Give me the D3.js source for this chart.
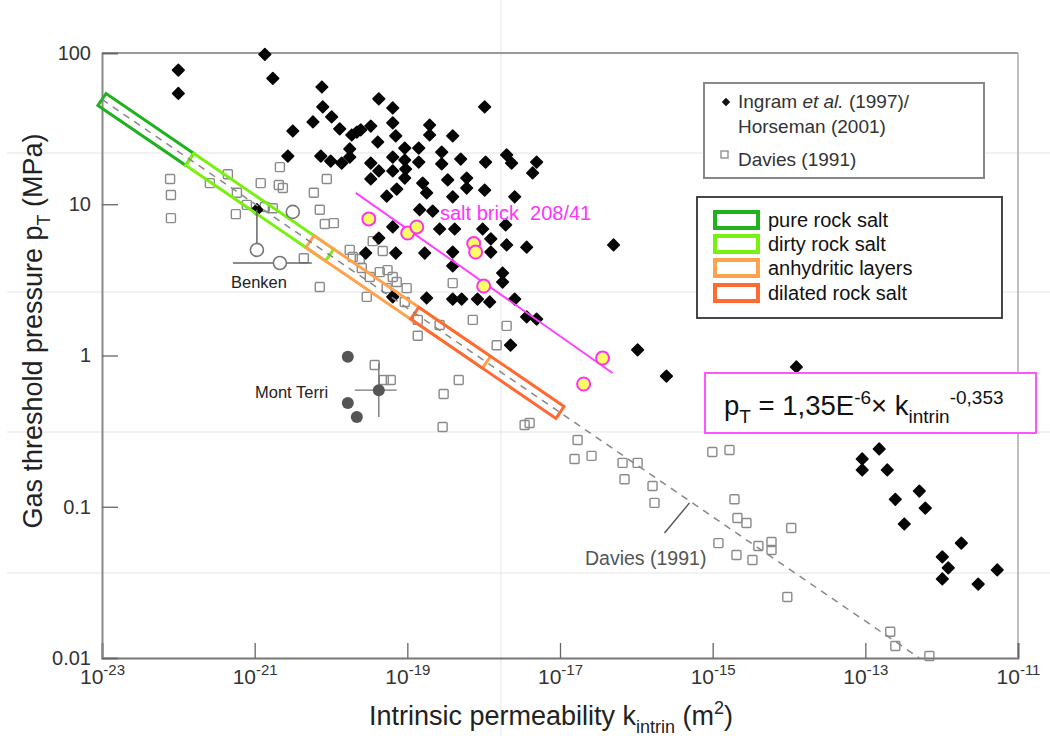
<!DOCTYPE html>
<html>
<head>
<meta charset="utf-8">
<script src="https://cdn.jsdelivr.net/npm/d3@7"></script>
<style>
  body { margin: 0; background: #fff; }
  svg { display: block; font-family: "Liberation Sans", Arial, sans-serif; }
</style>
</head>
<body>
<svg id="chart" width="1050" height="736"></svg>
<script>
// ---- Data: intrinsic permeability k (m²) and gas threshold pressure p (MPa) ----

// Ingram et al. (1997) / Horseman (2001)
const ingramK = [
  1.0e-22, 1.0e-22, 1.36e-21, 1.73e-21, 7.6e-21, 7.8e-21, 1.02e-20, 5.8e-21, 3.16e-21, 1.30e-20,
  1.87e-20, 2.18e-20, 2.45e-20, 3.32e-20, 4.23e-20, 6.44e-20, 6.44e-20, 7.05e-20, 4.1e-20, 2.72e-21,
  7.35e-21, 9.9e-21, 1.38e-20, 1.76e-20, 1.76e-20, 3.32e-20, 4.23e-20, 3.32e-20, 6.44e-20, 6.44e-20,
  9.25e-20, 9.25e-20, 9.5e-20, 9.25e-20, 7.26e-20, 5.37e-20, 1.41e-19, 1.41e-19, 1.96e-19, 1.96e-19,
  2.82e-19, 2.82e-19, 3.93e-19, 5.0e-19, 1.59e-19, 1.79e-19, 3.38e-19, 3.93e-19, 5.99e-19, 5.99e-19,
  1.03e-18, 1.03e-18, 1.45e-19, 2.15e-19, 2.0e-18, 2.32e-18, 4.94e-18, 4.38e-18, 2.55e-18, 1.06e-18,
  6.44e-20, 2.65e-19, 4.17e-19, 9.7e-19, 1.94e-18, 1.24e-18, 2.0e-18, 3.66e-18, 1.24e-18, 3.93e-19,
  1.69e-19, 7.05e-20, 2.85e-20, 4.23e-20, 5.03e-17, 3.93e-19, 1.77e-18, 1.77e-18, 6.44e-20, 1.79e-19,
  3.93e-19, 5.15e-19, 8.3e-19, 1.2e-18, 2.55e-18, 3.66e-18, 4.94e-18, 2.25e-18, 1.04e-16, 2.48e-16,
  1.25e-14, 1.52e-13, 9.1e-14, 9.1e-14, 1.94e-13, 5.1e-13, 2.47e-13, 6.1e-13, 3.24e-13, 1.81e-12,
  1.02e-12, 1.22e-12, 1.02e-12, 5.35e-12, 3.01e-12, 1.07e-21
];
const ingramP = [
  77, 54, 98, 68, 59.6, 44, 37.8, 35, 30.5, 31.5,
  28.7, 30, 31, 32.9, 49.7, 43.3, 34.5, 28.3, 25.8, 20.8,
  20.8, 19.3, 18.7, 20.5, 23.2, 18.7, 16.6, 14.7, 20.5, 16.6,
  23.5, 19.6, 17.1, 14.9, 12.6, 11.3, 23.5, 19.0, 33.4, 28.7,
  22.1, 18.5, 28.3, 19.9, 13.8, 11.9, 14.5, 11.2, 14.9, 12.8,
  12.4, 44, 9.2, 9.0, 21.2, 18.7, 19.0, 16.1, 11.2, 19.0,
  7.08, 6.86, 6.86, 6.86, 7.3, 5.9, 5.38, 5.2, 4.83, 4.83,
  4.76, 4.76, 4.76, 5.98, 5.38, 3.91, 3.51, 3.06, 2.44, 2.40,
  2.36, 2.36, 2.36, 2.26, 2.36, 1.80, 1.74, 1.17, 1.09, 0.73,
  0.84, 0.241, 0.207, 0.175, 0.175, 0.127, 0.112, 0.098, 0.0769, 0.0575,
  0.0466, 0.0394, 0.0333, 0.0382, 0.0308, 9.2
];

// Davies (1991)
const daviesK = [
  7.8e-23, 8.0e-23, 8.0e-23, 2.59e-22, 4.46e-22, 5.85e-22, 7.9e-22, 5.67e-22, 1.2e-21, 2.14e-21,
  2.34e-21, 2.07e-21, 5.96e-21, 7.13e-21, 8.8e-21, 1.36e-21, 1.73e-21, 8.3e-21, 1.09e-20, 4.4e-21,
  7.13e-21, 2.94e-20, 3.52e-20, 4.76e-20, 1.93e-20, 2.53e-20, 3.22e-20, 4.35e-20, 6.44e-20, 7.26e-20,
  9.8e-20, 5.37e-20, 9.25e-20, 1.37e-19, 1.37e-19, 2.65e-19, 7.2e-19, 3.93e-19, 2.38e-20, 1.76e-20,
  3.74e-20, 4.91e-20, 6.07e-20, 4.71e-19, 2.99e-19, 2.9e-19, 3.44e-18, 4.0e-18, 1.7e-17, 1.55e-17,
  2.59e-17, 6.6e-17, 1.04e-16, 7.0e-17, 1.63e-16, 1.73e-16, 9.9e-16, 1.66e-15, 1.93e-15, 2.11e-15,
  2.77e-15, 1.19e-15, 2.05e-15, 3.32e-15, 3.97e-15, 5.9e-15, 5.9e-15, 1.07e-14, 9.5e-15, 2.12e-13,
  2.47e-13, 6.9e-13, 2.0e-18, 1.48e-18, 5.5e-20
];
const daviesP = [
  14.7, 11.5, 8.1, 13.8, 15.8, 11.9, 9.9, 8.6, 13.8, 17.6,
  12.8, 13.4, 11.9, 9.2, 14.7, 9.6, 9.4, 7.4, 7.5, 4.4,
  2.84, 2.44, 5.7, 4.91, 4.48, 3.79, 3.30, 3.56, 3.30, 3.06,
  2.79, 2.79, 2.26, 1.72, 1.35, 1.59, 1.72, 3.01, 4.35, 4.99,
  0.865, 0.689, 0.689, 0.689, 0.556, 0.337, 0.347, 0.358, 0.276, 0.207,
  0.217, 0.195, 0.195, 0.152, 0.137, 0.106, 0.230, 0.237, 0.112, 0.0843,
  0.0781, 0.0575, 0.048, 0.0445, 0.055, 0.0585, 0.0518, 0.0724, 0.0253, 0.0149,
  0.012, 0.0103, 1.57, 1.17, 3.67
];

// Salt brick 208/41
const saltBrickK = [3.13e-20, 1.01e-19, 1.33e-19, 7.4e-19, 7.85e-19, 1.0e-18, 3.61e-17, 2.04e-17];
const saltBrickP = [8.0, 6.45, 7.08, 5.5, 4.83, 2.88, 0.962, 0.648];
const saltBrickFitK = [2.11e-20, 4.88e-17];
const saltBrickFitP = [11.9, 0.766];

// Benken (open circles) with error bars
const benkenK = [1.07e-21, 2.14e-21, 3.16e-21];
const benkenP = [4.99, 4.09, 8.9];
const benkenErrK = [[1.07e-21, 1.07e-21], [5.2e-22, 5.6e-21]];
const benkenErrP = [[4.99, 9.2], [4.09, 4.09]];

// Mont Terri (filled circles) with error bars
const montTerriK = [1.66e-20, 1.66e-20, 2.18e-20, 4.23e-20];
const montTerriP = [0.98, 0.485, 0.392, 0.59];
const montTerriErrK = [[2.05e-20, 7.26e-20], [4.23e-20, 4.23e-20]];
const montTerriErrP = [[0.59, 0.59], [0.392, 0.89]];

// Davies (1991) regression line, end points
const daviesFitK = [1e-23, 5.1e-13];
const daviesFitP = [49.3, 0.01];

// Lithology bands along the regression line (permeability ranges)
const lithologies = ["pure rock salt", "dirty rock salt", "anhydritic layers", "dilated rock salt"];
const lithologyColors = ["#1fb21f", "#78f010", "#ffa24e", "#ff6a32"];
const lithologyFromK = [1e-23, 1.41e-22, 5.3e-21, 1.25e-19];
const lithologyToK = [1.41e-22, 9.6e-21, 1.09e-18, 1.0e-17];

// Axis ticks
const xTickExponents = [-23, -21, -19, -17, -15, -13, -11];
const yTickValues = [0.01, 0.1, 1, 10, 100];
const yTickLabels = ["0.01", "0.1", "1", "10", "100"];

// ---- Layout ----
const plot = { left: 102, right: 1018, top: 53, bottom: 658 };
const svg = d3.select("#chart");

const x = d3.scaleLog().domain([1e-23, 1e-11]).range([plot.left, plot.right]);
const y = d3.scaleLog().domain([0.01, 100]).range([plot.bottom, plot.top]);

// text with sub/superscripts: parts = [{t, k: 'sub'|'sup'|undefined, i: italic}]
function richText(sel, parts, size, subShift, supShift, small) {
  let shift = 0;
  parts.forEach(p => {
    const target = p.k === "sub" ? subShift : p.k === "sup" ? -supShift : 0;
    sel.append("tspan")
      .attr("dy", target - shift)
      .attr("font-size", p.k ? small : size)
      .attr("font-style", p.i ? "italic" : null)
      .text(p.t);
    shift = target;
  });
  return sel;
}

// faint page grid behind the chart
const pageGridRows = [153, 292, 432, 573];
const pageGridCols = [501];
svg.append("g").selectAll("line").data(pageGridRows).join("line")
  .attr("x1", 7).attr("x2", 1050).attr("y1", d => d).attr("y2", d => d)
  .attr("stroke", "#ececec").attr("stroke-width", 1.3);
svg.append("g").selectAll("line").data(pageGridCols).join("line")
  .attr("x1", d => d).attr("x2", d => d).attr("y1", 0).attr("y2", 736)
  .attr("stroke", "#ececec").attr("stroke-width", 1.3);

// frame
svg.append("line").attr("x1", plot.left).attr("x2", plot.right).attr("y1", plot.top).attr("y2", plot.top)
  .attr("stroke", "#999").attr("stroke-width", 2);
svg.append("line").attr("x1", plot.right).attr("x2", plot.right).attr("y1", plot.top).attr("y2", plot.bottom)
  .attr("stroke", "#aaa").attr("stroke-width", 1.5);

// axes
const xAxis = svg.append("g").attr("transform", `translate(0,${plot.bottom})`)
  .call(d3.axisBottom(x).tickValues(xTickExponents.map(e => Math.pow(10, e))).tickSize(-15).tickFormat(""));
xAxis.select(".domain").attr("stroke", "#777").attr("stroke-width", 2);
xAxis.selectAll(".tick line").attr("stroke", "#666").attr("stroke-width", 1.3);
xAxis.selectAll(".tick").each(function(d, i) {
  const t = d3.select(this).append("text")
    .attr("y", 26).attr("text-anchor", "middle").attr("fill", "#333")
    .attr("font-family", "'Liberation Sans', Arial, sans-serif");
  richText(t, [{ t: "10" }, { t: String(xTickExponents[i]), k: "sup" }], 21, 0, 9, 15);
});

const yAxis = svg.append("g").attr("transform", `translate(${plot.left},0)`)
  .call(d3.axisLeft(y).tickValues(yTickValues).tickSize(-16).tickPadding(11)
    .tickFormat((d, i) => yTickLabels[i]));
yAxis.select(".domain").attr("stroke", "#888").attr("stroke-width", 2);
yAxis.selectAll(".tick line").attr("stroke", "#666").attr("stroke-width", 1.3);
yAxis.selectAll(".tick text").attr("font-size", 20).attr("fill", "#333")
  .attr("font-family", "'Liberation Sans', Arial, sans-serif");

// axis titles
richText(svg.append("text").attr("x", 551).attr("y", 725).attr("text-anchor", "middle")
  .attr("fill", "#222"),
  [{ t: "Intrinsic permeability k" }, { t: "intrin", k: "sub" }, { t: " (m" }, { t: "2", k: "sup" }, { t: ")" }],
  27, 8, 11, 18);
richText(svg.append("text").attr("transform", "translate(42,331) rotate(-90)").attr("text-anchor", "middle")
  .attr("fill", "#222"),
  [{ t: "Gas threshold pressure p" }, { t: "T", k: "sub" }, { t: " (MPa)" }],
  27, 8, 11, 18);

// ---- Marks ----
const dataPlot = svg.append("g");

// Davies squares
dataPlot.append("g").selectAll("rect").data(d3.zip(daviesK, daviesP)).join("rect")
  .attr("x", d => x(d[0]) - 4.5).attr("y", d => y(d[1]) - 4.5)
  .attr("width", 9).attr("height", 9).attr("rx", 1)
  .attr("fill", "none").attr("stroke", "#8a8a8a").attr("stroke-width", 1.4);

// Ingram / Horseman diamonds
const diamond = "M0,-5.8L5.8,0L0,5.8L-5.8,0Z";
dataPlot.append("g").selectAll("path").data(d3.zip(ingramK, ingramP)).join("path")
  .attr("d", diamond)
  .attr("transform", d => `translate(${x(d[0])},${y(d[1])})`)
  .attr("fill", "#050505").attr("stroke", "#050505").attr("stroke-width", 1.6)
  .attr("stroke-linejoin", "round");

// regression line in pixel space, used to place the lithology bands
const fx0 = x(daviesFitK[0]), fy0 = y(daviesFitP[0]);
const fx1 = x(daviesFitK[1]), fy1 = y(daviesFitP[1]);
const len = Math.hypot(fx1 - fx0, fy1 - fy0);
const ux = (fx1 - fx0) / len, uy = (fy1 - fy0) / len;
const nx = -uy, ny = ux;
const onFit = px => [px, fy0 + (px - fx0) * (fy1 - fy0) / (fx1 - fx0)];
const halfW = 7.2;

const bands = lithologies.map((name, i) => {
  const a = onFit(x(lithologyFromK[i])), b = onFit(x(lithologyToK[i]));
  return [
    [a[0] + nx * halfW, a[1] + ny * halfW],
    [b[0] + nx * halfW, b[1] + ny * halfW],
    [b[0] - nx * halfW, b[1] - ny * halfW],
    [a[0] - nx * halfW, a[1] - ny * halfW]
  ];
});
dataPlot.append("g").selectAll("polygon").data(bands).join("polygon")
  .attr("points", d => d.map(p => p.join(",")).join(" "))
  .attr("fill", "none")
  .attr("stroke", (d, i) => lithologyColors[i])
  .attr("stroke-width", 3)
  .attr("stroke-linejoin", "miter");

// Davies regression line (dashed)
dataPlot.append("path")
  .datum(d3.zip(daviesFitK, daviesFitP))
  .attr("d", d3.line().x(d => x(d[0])).y(d => y(d[1])))
  .attr("fill", "none").attr("stroke", "#888").attr("stroke-width", 1.5)
  .attr("stroke-dasharray", "7,6");

// Benken error bars and open circles
dataPlot.append("g").selectAll("line").data(d3.zip(benkenErrK, benkenErrP)).join("line")
  .attr("x1", d => x(d[0][0])).attr("x2", d => x(d[0][1]))
  .attr("y1", d => y(d[1][0])).attr("y2", d => y(d[1][1]))
  .attr("stroke", "#666").attr("stroke-width", 1.5);
dataPlot.append("g").selectAll("circle").data(d3.zip(benkenK, benkenP)).join("circle")
  .attr("cx", d => x(d[0])).attr("cy", d => y(d[1])).attr("r", 6.5)
  .attr("fill", "#fff").attr("stroke", "#777").attr("stroke-width", 1.6);

// Mont Terri error bars and filled circles
dataPlot.append("g").selectAll("line").data(d3.zip(montTerriErrK, montTerriErrP)).join("line")
  .attr("x1", d => x(d[0][0])).attr("x2", d => x(d[0][1]))
  .attr("y1", d => y(d[1][0])).attr("y2", d => y(d[1][1]))
  .attr("stroke", "#777").attr("stroke-width", 1.4);
dataPlot.append("g").selectAll("circle").data(d3.zip(montTerriK, montTerriP)).join("circle")
  .attr("cx", d => x(d[0])).attr("cy", d => y(d[1])).attr("r", 6)
  .attr("fill", "#555");

// salt brick trend and points
dataPlot.append("path")
  .datum(d3.zip(saltBrickFitK, saltBrickFitP))
  .attr("d", d3.line().x(d => x(d[0])).y(d => y(d[1])))
  .attr("stroke", "#ff40ff").attr("stroke-width", 2);
dataPlot.append("g").selectAll("circle").data(d3.zip(saltBrickK, saltBrickP)).join("circle")
  .attr("cx", d => x(d[0])).attr("cy", d => y(d[1])).attr("r", 6.5)
  .attr("fill", "#ffff66").attr("stroke", "#ff33ee").attr("stroke-width", 2);

// ---- Annotations ----
svg.append("text").attr("x", 440).attr("y", 220).attr("font-size", 20).attr("fill", "#ff33ff")
  .attr("xml:space", "preserve")
  .text("salt brick\u00a0 208/41");
svg.append("text").attr("x", 231).attr("y", 288).attr("font-size", 16.5).attr("fill", "#222")
  .text("Benken");
svg.append("text").attr("x", 255).attr("y", 398).attr("font-size", 16.5).attr("fill", "#222")
  .text("Mont Terri");

// Davies (1991) label with leader
const leaderK = [2.34e-16, 4.97e-16], leaderP = [0.067, 0.106];
svg.append("line")
  .attr("x1", x(leaderK[0])).attr("y1", y(leaderP[0]))
  .attr("x2", x(leaderK[1])).attr("y2", y(leaderP[1]))
  .attr("stroke", "#555").attr("stroke-width", 1.4);
svg.append("text").attr("x", 585).attr("y", 565).attr("font-size", 19.5).attr("fill", "#555")
  .text("Davies (1991)");

// equation box
svg.append("rect").attr("x", 705).attr("y", 373).attr("width", 331).attr("height", 60)
  .attr("fill", "#fff").attr("stroke", "#ff55ff").attr("stroke-width", 2);
richText(svg.append("text").attr("x", 724).attr("y", 415).attr("fill", "#111"),
  [{ t: "p" }, { t: "T", k: "sub" }, { t: " = 1,35E" }, { t: "-6", k: "sup" }, { t: "× k" },
   { t: "intrin", k: "sub" }, { t: "-0,353", k: "sup" }],
  27.5, 8, 11, 19);

// legend: data sources
const leg1 = svg.append("g");
leg1.append("rect").attr("x", 704).attr("y", 83).attr("width", 280).attr("height", 95)
  .attr("fill", "#fff").attr("stroke", "#888").attr("stroke-width", 2);
leg1.append("path").attr("d", "M0,-4.2L4.2,0L0,4.2L-4.2,0Z")
  .attr("transform", "translate(726,102)").attr("fill", "#111");
richText(leg1.append("text").attr("x", 738).attr("y", 108).attr("fill", "#333"),
  [{ t: "Ingram " }, { t: "et al.", i: true }, { t: " (1997)/" }], 19, 0, 0, 19);
leg1.append("text").attr("x", 738).attr("y", 133).attr("font-size", 19).attr("fill", "#333")
  .text("Horseman (2001)");
leg1.append("rect").attr("x", 721).attr("y", 151).attr("width", 7).attr("height", 7)
  .attr("fill", "none").attr("stroke", "#888").attr("stroke-width", 1.3);
leg1.append("text").attr("x", 738).attr("y", 166).attr("font-size", 19).attr("fill", "#333")
  .text("Davies (1991)");

// legend: lithologies
const leg2 = svg.append("g");
leg2.append("rect").attr("x", 697).attr("y", 197).attr("width", 305).attr("height", 121)
  .attr("fill", "#fff").attr("stroke", "#333").attr("stroke-width", 1.8);
const rowY = [220, 244, 268, 293];
leg2.selectAll("rect.sw").data(lithologies).join("rect")
  .attr("class", "sw")
  .attr("x", 715).attr("y", (d, i) => rowY[i] - 8)
  .attr("width", 43).attr("height", 16)
  .attr("fill", "#fff").attr("stroke", (d, i) => lithologyColors[i]).attr("stroke-width", 4);
leg2.selectAll("text").data(lithologies).join("text")
  .attr("x", 768).attr("y", (d, i) => rowY[i] + 7)
  .attr("font-size", 20).attr("fill", "#111")
  .text(d => d);
</script>
</body>
</html>
